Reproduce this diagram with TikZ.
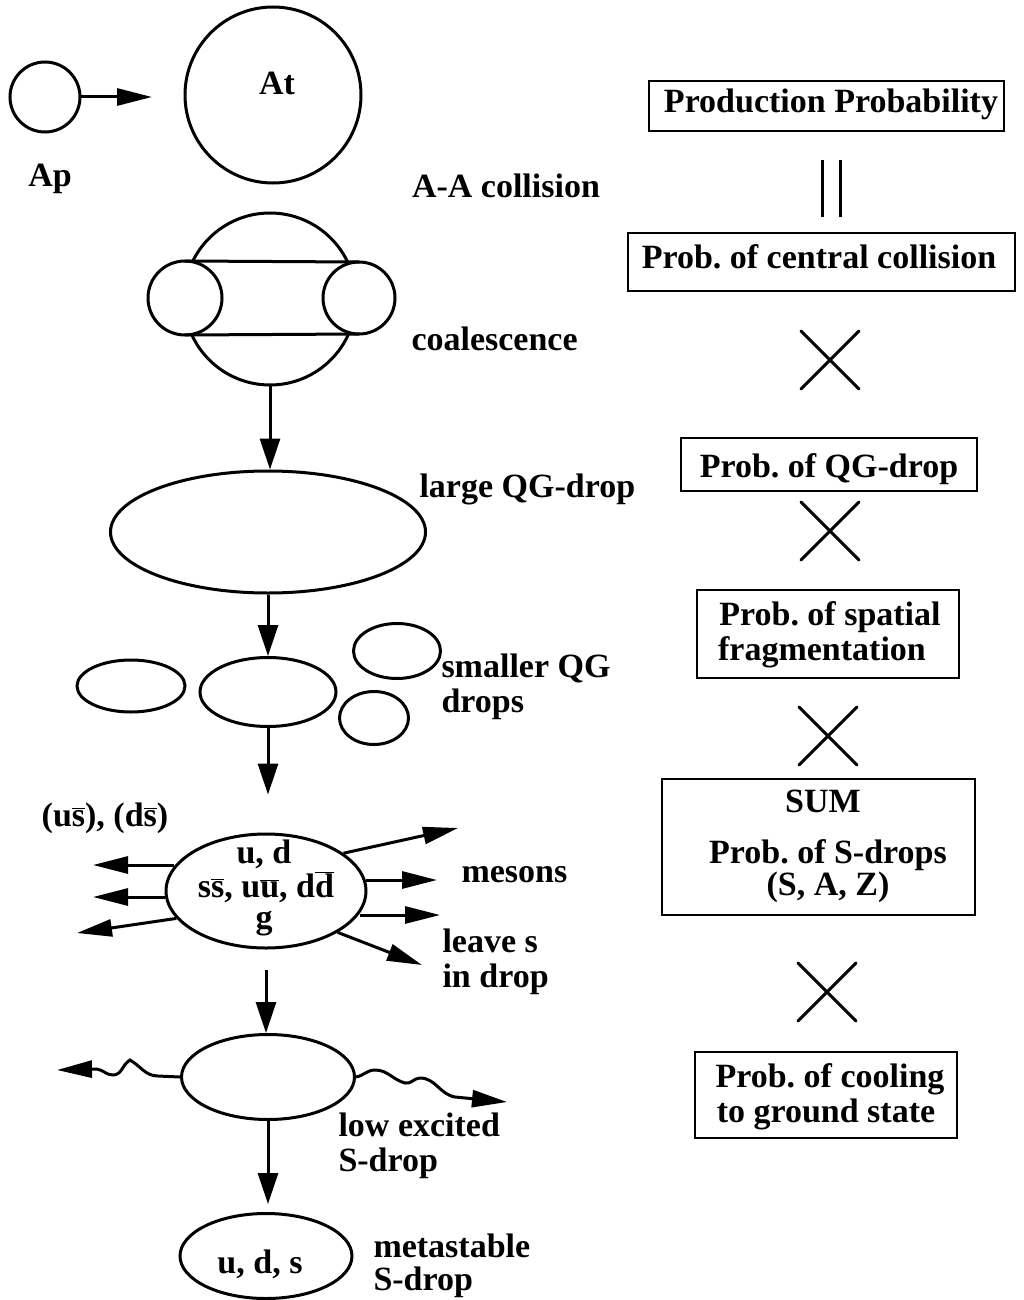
\documentclass[tikz,border=0pt]{standalone}
\usepackage{fontspec}
\setmainfont{Liberation Serif}
\usetikzlibrary{shapes.geometric,shapes.misc,arrows.meta}
\newcommand\obar[1]{\ensuremath{\overline{\hbox{#1}}}}
\frenchspacing
\begin{document}
\begin{tikzpicture}[x=1pt,y=-1pt,line width=3pt,
 txt/.style={font=\fontsize{34}{35}\selectfont\bfseries, inner sep=0pt, anchor=base},
 txtl/.style={txt, anchor=base west},
 drop/.style={draw, ellipse, inner sep=0pt, line width=3pt},
 ball/.style={draw, circle, inner sep=0pt, outer sep=0pt, line width=3pt},
 pbox/.style={draw, rectangle, line width=2pt, inner sep=0pt},
 xmark/.style={draw, cross out, minimum size=55pt, line width=3pt, line cap=round, inner sep=0pt},
 arr/.style={-{Triangle[length=31pt,width=20pt]}},
 arrs/.style={-{Triangle[length=35pt,width=17pt]}}]

\fill[white] (0,0) rectangle (1024,1300);
\useasboundingbox (0,0) rectangle (1024,1300);

% projectile and target
\node[ball, minimum size=70pt] (ap) at (45,97) {};
\node[txt] (apl) at (50,186) {Ap};
\node[ball, minimum size=176pt] (at) at (273,95) {};
\node[txt] (atl) at (277,95) {At};
\coordinate (apTip) at (152,97);
\draw[arrs] (ap.east) -- (apTip);
\node[txt] (aa) at (506,197) {A-A collision};

% coalescence
\node[ball, minimum size=172pt] (coal) at (270,299) {};
\node[ball, fill=white, minimum size=74pt] (cl) at (185,298) {};
\node[ball, fill=white, minimum size=72pt] (cr) at (359,298) {};
\draw (cl.north) -- (cr.north);
\draw (cl.south) -- (cr.south);
\node[txtl] (coall) at (410,350) {coalescence};

% large drop
\node[drop, minimum width=315pt, minimum height=122pt] (large) at (268,532) {};
\draw[arr] (coal.south) -- (coal.south |- large.north);
\node[txtl] (largel) at (418,497) {large QG-drop};

% smaller drops
\node[drop, minimum width=108pt, minimum height=52pt] (s1) at (131,686) {};
\node[drop, minimum width=136pt, minimum height=69pt] (s2) at (268,692) {};
\node[drop, minimum width=87pt, minimum height=55pt] (s3) at (397,651) {};
\node[drop, minimum width=69pt, minimum height=53pt] (s4) at (374,718) {};
\draw[arr] (large.south) -- (large.south |- s2.north);
\node[txtl] (sm1) at (440,677) {smaller QG};
\node[txtl] (sm2) at (440,712) {drops};

% hot drop
\node[drop, minimum width=200pt, minimum height=114pt] (hot) at (266,891) {};
\draw[arr, shorten >=38pt] (s2.south) -- (s2.south |- hot.north);
\node[txt] (h1) at (264,863) {u, d};
\node[txt] (h2) at (266,897) {s\obar{s}, u\obar{u}, d\obar{d}};
\node[txt] (h3) at (264,928) {g};
\coordinate (l1) at (93,865);
\coordinate (l2) at (93,897);
\coordinate (l3) at (77,933);
\draw[arrs] (hot.165 |- l1) -- (l1);
\draw[arrs] (hot.183 |- l2) -- (l2);
\draw[arrs] (hot.197) -- (l3);
\coordinate (r1) at (458,828);
\coordinate (r2) at (437,880);
\coordinate (r3) at (440,915);
\coordinate (r4) at (422,965);
\draw[arrs] (hot.26) -- (r1);
\draw[arrs] (hot.6 |- r2) -- (r2);
\draw[arrs] (hot.-13 |- r3) -- (r3);
\draw[arrs] (hot.-30) -- (r4);
\node[txt] (us) at (105,826) {(u\obar{s}), (d\obar{s})};
\node[txtl] (mes) at (460,882) {mesons};
\node[txtl] (lv1) at (441,952) {leave s};
\node[txtl] (lv2) at (441,987) {in drop};

% low excited drop
\node[drop, minimum width=173pt, minimum height=85pt] (low) at (268,1077) {};
\draw[arr, shorten <=20pt] (hot.south) -- (hot.south |- low.north);
\coordinate (wl) at (57,1070);
\coordinate (wr) at (507,1102);
\draw[arrs] (low.west) -- (158,1076) to[out=180,in=-30] (130,1060)
   to[out=210,in=0] (113,1075) to[out=180,in=-10] (97,1069) -- (wl);
\draw[arrs] (low.east) to[out=10,in=180] (375,1070) to[out=0,in=165] (405,1083)
   to[out=-15,in=180] (420,1078) to[out=0,in=170] (455,1097) -- (wr);
\node[txtl] (le1) at (337,1136) {low excited};
\node[txtl] (le2) at (337,1171) {S-drop};

% metastable drop
\node[drop, minimum width=172pt, minimum height=85pt] (meta) at (266,1256) {};
\draw[arr, shorten >=8pt] (low.south) -- (low.south |- meta.north);
\node[txt] (metat) at (260,1273) {u, d, s};
\node[txtl] (mt1) at (372,1257) {metastable};
\node[txtl] (mt2) at (372,1290) {S-drop};

% right column
\node[pbox, minimum width=355pt, minimum height=50pt] (b1) at (826,106) {};
\node[txt] (b1t) at (831,113) {Production Probability};
\draw (822,160) -- (822,217);
\draw (840,160) -- (840,217);
\node[pbox, minimum width=387pt, minimum height=58pt] (b2) at (821,262) {};
\node[txt] (b2t) at (819,268) {Prob. of central collision};
\node[xmark] (x1) at (830,360) {};
\node[pbox, minimum width=296pt, minimum height=53pt] (b3) at (829,464) {};
\node[txt] (b3t) at (829,477) {Prob. of QG-drop};
\node[xmark] (x2) at (830,531) {};
\node[pbox, minimum width=262pt, minimum height=88pt] (b4) at (828,634) {};
\node[txt] (b4a) at (830,625) {Prob. of spatial};
\node[txt] (b4b) at (822,660) {fragmentation};
\node[xmark] (x3) at (828,736) {};
\node[pbox, minimum width=313pt, minimum height=136pt] (b5) at (818,847) {};
\node[txt] (b5a) at (823,812) {SUM};
\node[txt] (b5b) at (828,863) {Prob. of S-drops};
\node[txt] (b5c) at (828,895) {(S, A, Z)};
\node[xmark] (x4) at (827,992) {};
\node[pbox, minimum width=262pt, minimum height=86pt] (b6) at (826,1095) {};
\node[txt] (b6a) at (830,1087) {Prob. of cooling};
\node[txt] (b6b) at (826,1122) {to ground state};
\end{tikzpicture}
\end{document}
